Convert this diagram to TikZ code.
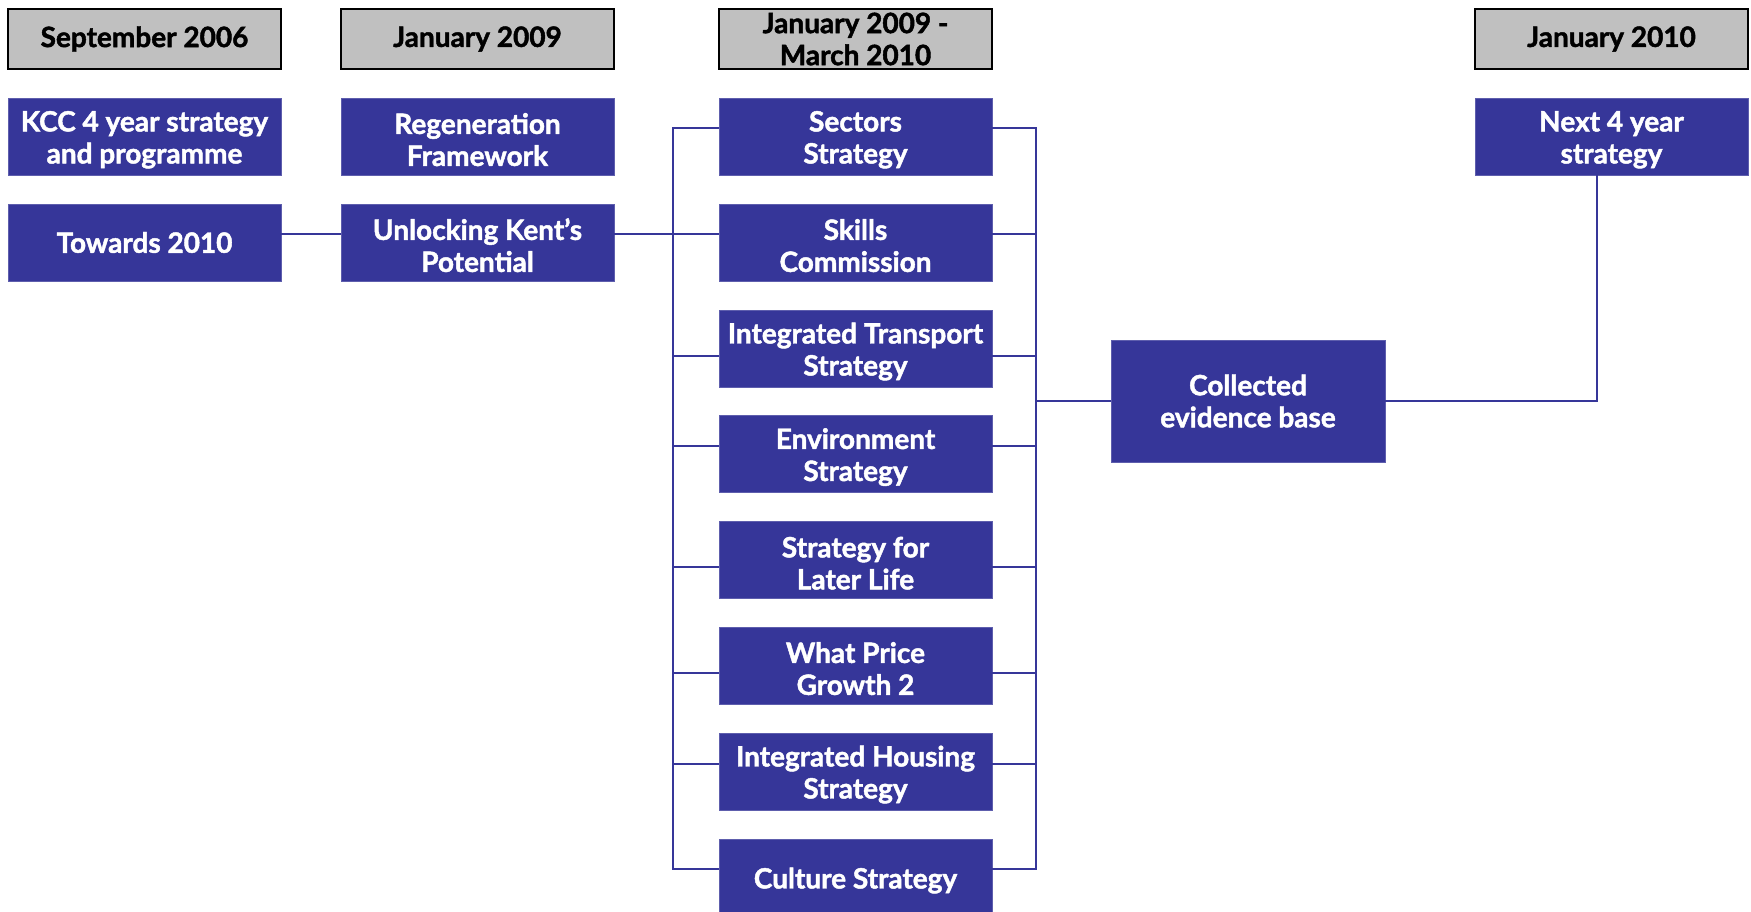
\documentclass[tikz,border=0pt]{standalone}
\usepackage{fontspec}
\setmainfont{Lato}[BoldFeatures={FakeBold=1.6}]
\definecolor{boxblue}{RGB}{54,54,153}
\definecolor{hdrgray}{RGB}{192,192,192}
\newcommand\uplift{\rule{0pt}{27pt}}
\begin{document}
\begin{tikzpicture}[x=1pt,y=-1pt,
  txt/.style={font=\fontsize{28}{32}\selectfont\bfseries, align=center, inner sep=0pt},
  hdr/.style={txt, draw=black, line width=2.2pt, fill=hdrgray, text=black, minimum width=273pt, minimum height=60pt},
  bbox/.style={txt, fill=boxblue, draw=boxblue!80!white, line width=0.8pt, text=white, minimum width=273pt, minimum height=77pt},
  conn/.style={draw=boxblue, line width=2.2pt, line join=miter}]
\clip (0,0) rectangle (1751,912);
\useasboundingbox (0,0) rectangle (1751,912);
\fill[white] (0,0) rectangle (1751,912);
% headers
\node[hdr] (h1) at (144.5,39) {September 2006};
\node[hdr] (h2) at (477.5,39) {January 2009};
\node[hdr] (h3) at (855.5,39) {January 2009 -\\March 2010};
\node[hdr] (h4) at (1611.5,39) {January 2010};
% column 1
\node[bbox] (kcc) at (144.5,136.5) {\uplift KCC 4 year strategy\\and programme};
\node[bbox] (towards) at (144.5,242.5) {Towards 2010};
% column 2
\node[bbox] (regen) at (477.5,136.5) {\uplift Regeneration\\Framework};
\node[bbox] (unlock) at (477.5,242.5) {\uplift Unlocking Kent’s\\Potential};
% column 3
\node[bbox] (sectors) at (855.5,136.5) {\uplift Sectors\\Strategy};
\node[bbox] (skills) at (855.5,242.5) {\uplift Skills\\Commission};
\node[bbox] (transport) at (855.5,348.5) {\uplift Integrated Transport\\Strategy};
\node[bbox] (env) at (855.5,454) {\uplift Environment\\Strategy};
\node[bbox] (later) at (855.5,560) {\uplift Strategy for\\Later Life};
\node[bbox] (wpg) at (855.5,665.5) {\uplift What Price\\Growth 2};
\node[bbox] (housing) at (855.5,771.5) {\uplift Integrated Housing\\Strategy};
\node[bbox] (culture) at (855.5,877.5) {\uplift Culture Strategy};
% evidence and next
\node[bbox, minimum width=274pt, minimum height=122pt] (evidence) at (1248,401) {Collected\\evidence base};
\node[bbox] (next) at (1611.5,136.5) {\uplift Next 4 year\\strategy};
% bus coordinates
\coordinate (lbT) at (673,128);
\coordinate (lbB) at (673,869);
\coordinate (rbT) at (1036,128);
\coordinate (rbB) at (1036,869);
% connectors
\draw[conn] (towards.east |- 0,234) -- (unlock.west |- 0,234);
\draw[conn] (unlock.east |- 0,234) -- (lbT |- 0,234);
\draw[conn] (sectors.west |- lbT) -- (lbT) -- (lbB) -- (culture.west |- lbB);
\draw[conn] (sectors.east |- rbT) -- (rbT) -- (rbB) -- (culture.east |- rbB);
\foreach \n/\yy in {skills/234, transport/356, env/446, later/567, wpg/673, housing/764} {
  \draw[conn] (\n.west |- 0,\yy) -- (lbT |- 0,\yy);
  \draw[conn] (\n.east |- 0,\yy) -- (rbT |- 0,\yy);
}
\draw[conn] (rbT |- evidence.west) -- (evidence.west);
\draw[conn] (evidence.east) -- (1597,0 |- evidence.east) -- (next.south -| 1597,0);
\end{tikzpicture}
\end{document}
